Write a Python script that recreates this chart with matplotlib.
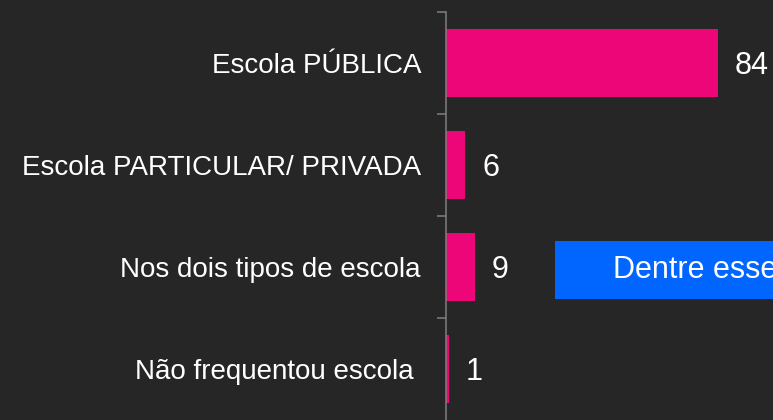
import matplotlib
matplotlib.use("Agg")
import matplotlib.pyplot as plt
import numpy

categories = [
    "Escola PÚBLICA",
    "Escola PARTICULAR/ PRIVADA",
    "Nos dois tipos de escola",
    "Não frequentou escola ",
]
values = [84, 6, 9, 1]
callout_text = "Dentre esses"

background = "#262626"
bar_colour = "#EC0677"
axis_colour = "#7F7F7F"
callout_colour = "#0066FF"

plt.rcParams["font.family"] = ["Liberation Sans", "DejaVu Sans"]

figure = plt.figure(figsize=(7.73, 4.2), dpi=100)
figure.patch.set_facecolor(background)

# Main bar axes: left edge at the vertical axis line, runs off the bottom/right.
axes = figure.add_axes([446 / 773, 0.0, 1 - 446 / 773, 408 / 420])
axes.set_facecolor(background)

positions = numpy.arange(len(categories))
axes.barh(positions, values, height=0.67, color=bar_colour)
axes.set_ylim(len(categories) - 0.5, -0.5)
axes.set_xlim(0, 101)

for index in range(len(values)):
    axes.annotate(
        str(values[index]),
        xy=(values[index], positions[index]),
        xytext=(12, -2),
        textcoords="offset points",
        ha="left",
        va="center",
        color="white",
        fontsize=22,
    )

# Category labels sit on major ticks of zero length; the gray marks are minor
# ticks at the boundaries between categories (the bottom one falls off-slide).
axes.set_yticks(positions)
axes.set_yticklabels(categories, color="white", fontsize=20)
axes.tick_params(axis="y", which="major", length=0, pad=18)
axes.set_yticks(numpy.arange(-0.5, len(categories) - 1, 1.0), minor=True)
axes.tick_params(axis="y", which="minor", length=6.5, width=1.1, color=axis_colour)
axes.set_xticks([])

for side in ["top", "right", "bottom"]:
    axes.spines[side].set_visible(False)
axes.spines["left"].set_color(axis_colour)
axes.spines["left"].set_linewidth(1.1)

# Blue callout box, cut off by the right edge of the slide as in the original.
callout = figure.add_axes([555 / 773, 121 / 420, 1 - 555 / 773, 58 / 420])
callout.set_facecolor(callout_colour)
callout.set_xticks([])
callout.set_yticks([])
for side in callout.spines:
    callout.spines[side].set_visible(False)
callout.text(
    (613 - 555) / (773 - 555),
    0.5,
    callout_text,
    transform=callout.transAxes,
    ha="left",
    va="center",
    color="white",
    fontsize=22,
    clip_on=True,
)

figure.savefig("out.png", dpi=100, facecolor=background)
